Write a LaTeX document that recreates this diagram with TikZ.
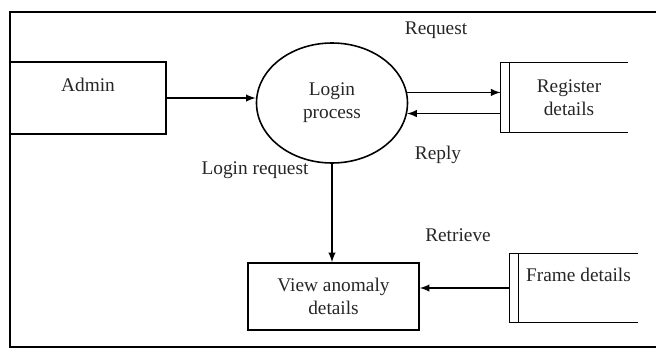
\documentclass[tikz,border=0pt]{standalone}
\usepackage{fontspec}
\setmainfont{Liberation Serif}
\usetikzlibrary{shapes.geometric,calc,positioning}
\tikzset{>=latex}
\tikzset{
  entity/.style={draw, line width=0.9pt, minimum width=3.12cm, minimum height=1.44cm, inner sep=0pt},
  process/.style={draw, ellipse, line width=0.9pt, minimum width=3.02cm, minimum height=2.4cm, inner sep=0pt, align=center},
  store/.style={inner sep=0pt, align=center},
  flow/.style={->, line width=0.9pt},
  lbl/.style={inner sep=1pt}
}
\newcommand{\storeedge}[1]{%
  \draw[line width=0.9pt] (#1.north east) -- ([xshift=-0.18cm]#1.north west) -- ([xshift=-0.18cm]#1.south west) -- (#1.south east);
  \draw[line width=0.9pt] (#1.north west) -- (#1.south west);}

\begin{document}
\begin{tikzpicture}[every node/.style={font=\fontsize{11}{13}\selectfont, text=black!85}]
  \useasboundingbox (0,0) rectangle (13.12,7);
  % outer frame
  \draw[line width=1.1pt] (13.12,6.76) -- (0.2,6.76) -- (0.2,0.06) -- (13.12,0.06);

  % entity and process
  \node[entity] (admin) at (1.76,5.04) {};
  \node (admintext) at ([yshift=-0.48cm]admin.north) {Admin};
  \node[process] (login) at (6.64,4.94) {Login\\process};
  \node[entity, minimum width=3.42cm, minimum height=1.34cm, align=center] (view) at (6.67,1.07) {View anomaly\\details};

  % data stores
  \node[store, minimum width=2.36cm, minimum height=1.38cm] (reg) at (11.38,5.05) {Register\\details};
  \storeedge{reg}
  \node[store, minimum width=2.38cm, minimum height=1.36cm] (fdet) at (11.57,1.24) {};
  \node (fdettext) at ([yshift=-0.42cm]fdet.north) {Frame details};
  \storeedge{fdet}
  \coordinate (regedge) at ([xshift=-0.18cm]reg.west);
  \coordinate (fdetedge) at ([xshift=-0.18cm]fdet.west);

  % flows
  \draw[flow] (admin.east) -- (admin.east -| login.west);
  \draw[flow] (login.8) -- (login.8 -| regedge);
  \draw[flow] (login.-8 -| regedge) -- (login.-8);
  \draw[flow] (login.south) -- (login.south |- view.north);
  \draw[flow] (fdetedge) -- (fdetedge -| view.east);

  % flow labels
  \node[lbl] (request) at (8.72,6.4) {Request};
  \node[lbl] (reply) at (8.76,3.9) {Reply};
  \node[lbl] (loginreq) at (5.1,3.6) {Login request};
  \node[lbl] (retrieve) at (9.16,2.3) {Retrieve};
\end{tikzpicture}
\end{document}
